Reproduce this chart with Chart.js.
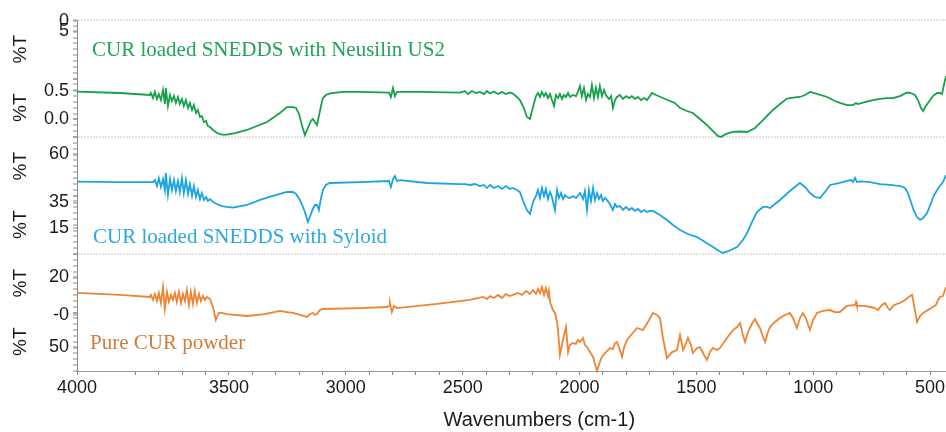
<!DOCTYPE html>
<html>
<head>
<meta charset="utf-8">
<script src="https://cdn.jsdelivr.net/npm/chart.js@4.4.1/dist/chart.umd.min.js"></script>
<style>
html,body{margin:0;padding:0;background:#ffffff;}
canvas{display:block;}
</style>
</head>
<body>
<canvas id="c" width="946" height="432"></canvas>
<script>
// ---------------- DATA ----------------
const sampleNames = ['CUR loaded SNEDDS with Neusilin US2', 'CUR loaded SNEDDS with Syloid', 'Pure CUR powder'];

// x axis (wavenumbers, cm-1)
const xTickValues = [4150, 3500, 3000, 2500, 2000, 1500, 1000, 500];
const xTickLabels = ['4000', '3500', '3000', '2500', '2000', '1500', '1000', '500'];
const xMinorTicks = [3900, 3800, 3700, 3600, 3400, 3300, 3200, 3100, 2900, 2800, 2700, 2600, 2400, 2300, 2200, 2100, 1900, 1800, 1700, 1600, 1400, 1300, 1200, 1100, 900, 800, 700, 600];

// y tick labels of each panel half (panel units 0..100)
const topUpperTickValues = [99.1, 90.2];  const topUpperTickLabels = ['0', '5'];
const topLowerTickValues = [38.9, 15.4];  const topLowerTickLabels = ['0.5', '0.0'];
const midUpperTickValues = [85.5];        const midUpperTickLabels = ['60'];
const midLowerTickValues = [44.0, 22.6];  const midLowerTickLabels = ['35', '15'];
const botUpperTickValues = [79.9];        const botUpperTickLabels = ['20'];
const botLowerTickValues = [47.9, 20.9];  const botLowerTickLabels = ['-0', '50'];

// spectra: [wavenumber, %T (panel units)]
const neusilinSpectrum = [[4150,38.7],[3966,37.6],[3838,35.9],[3834,37.6],[3825,33.3],[3817,38.5],[3808,32.5],[3800,36.7],[3791,31.6],[3782,40.2],[3774,28.2],[3770,41.9],[3761,26.5],[3752,35.9],[3744,30.8],[3735,35.0],[3727,29.1],[3718,34.2],[3710,28.2],[3701,32.5],[3693,26.5],[3684,31.6],[3675,24.8],[3667,29.1],[3658,23.1],[3650,27.3],[3641,20.5],[3633,23.1],[3624,17.1],[3616,17.9],[3607,12.8],[3598,13.7],[3590,9.4],[3581,8.5],[3568,6.0],[3551,3.4],[3530,2.1],[3509,2.1],[3474,3.4],[3423,6.0],[3380,9.4],[3337,12.8],[3282,20.5],[3252,25.6],[3239,25.6],[3226,25.6],[3213,24.8],[3200,19.7],[3188,10.3],[3175,1.7],[3162,7.7],[3149,13.7],[3141,15.4],[3132,12.8],[3123,10.3],[3115,17.9],[3106,26.5],[3098,33.3],[3085,35.9],[3068,37.2],[3012,38.5],[2939,38.5],[2815,38.0],[2807,34.2],[2798,41.9],[2790,35.0],[2781,38.5],[2683,38.5],[2512,38.0],[2490,39.3],[2477,36.7],[2460,39.3],[2443,37.6],[2426,38.5],[2409,36.7],[2396,39.3],[2383,37.2],[2366,38.9],[2349,36.7],[2332,38.5],[2315,36.7],[2298,38.0],[2285,37.2],[2268,34.2],[2255,31.6],[2238,24.8],[2225,17.1],[2212,15.4],[2199,25.6],[2186,35.0],[2178,37.6],[2169,34.2],[2161,38.5],[2152,35.0],[2144,37.6],[2135,33.3],[2126,36.7],[2118,31.6],[2109,26.5],[2101,35.9],[2092,33.3],[2084,36.7],[2075,32.5],[2067,35.9],[2058,34.2],[2049,37.6],[2041,34.2],[2028,35.9],[2015,35.0],[2007,38.5],[1998,43.6],[1990,35.0],[1981,41.9],[1972,31.6],[1964,36.7],[1955,34.2],[1947,44.4],[1938,33.3],[1930,41.9],[1921,34.2],[1913,43.6],[1904,35.0],[1895,40.2],[1887,35.9],[1874,32.5],[1865,35.0],[1857,24.8],[1848,31.6],[1840,34.2],[1827,35.9],[1814,32.5],[1801,35.0],[1788,33.3],[1776,35.0],[1763,32.5],[1750,34.2],[1737,31.6],[1724,33.3],[1711,31.6],[1699,35.0],[1690,37.6],[1673,35.9],[1643,33.3],[1613,30.8],[1592,29.1],[1570,24.8],[1540,22.2],[1515,20.5],[1485,15.4],[1455,10.3],[1429,5.1],[1408,0.9],[1395,0.0],[1373,2.6],[1343,4.3],[1313,4.7],[1283,4.3],[1249,7.7],[1215,14.5],[1194,18.8],[1172,23.1],[1142,28.2],[1112,32.9],[1078,33.8],[1057,34.2],[1035,35.9],[1014,38.5],[980,36.7],[941,34.2],[907,30.8],[886,29.1],[856,27.3],[830,27.3],[817,29.1],[809,28.2],[779,29.9],[744,31.6],[714,32.5],[684,33.3],[659,33.3],[629,35.0],[599,38.0],[582,37.6],[565,35.9],[552,31.6],[539,24.8],[530,22.2],[518,26.5],[500,31.6],[488,35.0],[470,37.6],[458,37.6],[449,36.7],[441,44.4],[432,52.1]];

const syloidSpectrum = [[4150,61.8],[3966,61.5],[3825,61.5],[3817,63.2],[3808,58.1],[3800,64.9],[3791,57.3],[3782,64.1],[3774,54.7],[3770,69.2],[3761,50.4],[3752,64.1],[3744,54.7],[3735,63.2],[3727,53.8],[3718,62.4],[3710,53.0],[3701,64.9],[3693,52.1],[3684,63.2],[3675,51.3],[3667,59.8],[3658,49.6],[3650,58.1],[3641,48.7],[3633,54.7],[3624,47.0],[3616,52.1],[3607,46.2],[3598,48.7],[3590,45.3],[3581,47.0],[3568,44.4],[3551,42.7],[3530,41.0],[3509,40.2],[3483,39.7],[3423,41.9],[3367,46.2],[3312,49.6],[3252,53.0],[3226,53.0],[3213,51.3],[3196,46.2],[3183,40.2],[3175,35.9],[3162,27.4],[3149,34.2],[3141,38.5],[3132,41.9],[3123,41.9],[3115,37.6],[3106,47.9],[3098,54.7],[3085,59.0],[3068,60.7],[2939,61.5],[2815,62.4],[2807,57.3],[2798,64.1],[2790,66.7],[2781,62.4],[2768,63.2],[2653,60.7],[2512,59.8],[2490,59.8],[2469,59.0],[2447,59.8],[2426,58.1],[2409,59.0],[2396,56.4],[2383,59.0],[2366,56.4],[2349,58.1],[2332,55.6],[2315,58.1],[2298,55.6],[2285,56.4],[2268,54.7],[2255,53.0],[2238,43.6],[2225,37.6],[2212,34.2],[2199,44.4],[2186,49.6],[2178,54.7],[2169,47.9],[2161,56.4],[2152,49.6],[2144,55.6],[2135,47.0],[2126,53.0],[2118,48.7],[2105,37.6],[2096,54.7],[2088,47.9],[2079,52.1],[2071,47.0],[2062,50.4],[2054,48.7],[2041,47.9],[2028,49.6],[2015,47.9],[1998,52.1],[1985,47.0],[1977,53.8],[1968,37.6],[1960,54.7],[1951,45.3],[1942,56.4],[1934,46.2],[1925,52.1],[1917,47.0],[1908,50.4],[1900,45.3],[1891,47.9],[1883,46.2],[1870,42.7],[1857,37.6],[1848,42.7],[1840,40.2],[1827,41.0],[1814,37.6],[1801,40.2],[1788,37.6],[1776,39.3],[1763,36.8],[1750,38.5],[1737,35.9],[1724,37.6],[1711,35.9],[1699,36.8],[1686,36.8],[1656,33.3],[1626,29.1],[1600,24.8],[1570,20.5],[1536,17.1],[1497,14.5],[1463,10.3],[1429,6.0],[1403,2.6],[1386,0.9],[1361,2.6],[1326,6.0],[1301,12.0],[1283,17.9],[1262,27.4],[1241,35.9],[1215,40.2],[1198,40.2],[1185,39.3],[1164,42.7],[1142,46.2],[1100,53.8],[1057,60.7],[1035,57.3],[1014,52.1],[993,48.7],[971,47.9],[950,53.0],[928,59.0],[886,60.7],[856,62.4],[838,63.2],[830,61.5],[821,64.9],[813,61.5],[800,62.0],[757,61.5],[714,59.8],[672,59.0],[629,58.1],[607,56.4],[595,52.1],[582,44.4],[569,36.8],[556,31.6],[543,29.1],[530,30.8],[513,35.0],[496,43.6],[483,50.4],[470,54.7],[458,58.1],[445,61.5],[432,67.5]];

const pureCurSpectrum = [[4150,66.7],[3966,65.0],[3838,63.3],[3834,65.0],[3825,60.7],[3817,65.8],[3808,59.8],[3800,66.7],[3791,58.1],[3782,71.8],[3774,53.0],[3765,67.5],[3757,59.0],[3748,65.0],[3740,60.7],[3731,66.7],[3723,59.0],[3714,67.5],[3705,58.1],[3697,65.8],[3688,59.8],[3680,69.2],[3671,56.4],[3663,67.5],[3654,57.3],[3646,68.4],[3637,58.1],[3628,65.8],[3620,59.8],[3611,64.1],[3603,60.7],[3594,63.3],[3581,61.5],[3568,54.7],[3556,43.6],[3543,49.6],[3530,49.6],[3509,48.7],[3423,47.0],[3346,48.7],[3282,51.3],[3252,50.4],[3226,49.6],[3196,47.9],[3166,46.2],[3153,48.7],[3141,49.6],[3132,47.9],[3123,48.7],[3111,52.1],[3098,53.0],[2939,53.8],[2824,54.7],[2815,55.6],[2811,58.1],[2803,50.4],[2794,55.6],[2781,53.8],[2610,57.3],[2512,59.8],[2469,60.7],[2413,63.3],[2396,61.5],[2383,64.1],[2366,62.4],[2349,65.0],[2332,62.4],[2315,65.8],[2298,64.1],[2285,65.0],[2263,66.7],[2246,65.0],[2229,68.4],[2212,65.8],[2199,69.2],[2186,65.8],[2178,70.1],[2169,66.7],[2161,71.8],[2152,65.0],[2144,70.9],[2135,64.1],[2131,68.4],[2126,59.0],[2114,52.1],[2105,49.6],[2096,41.9],[2092,35.0],[2084,13.7],[2071,26.5],[2058,37.6],[2049,16.2],[2041,22.2],[2028,23.9],[2015,23.1],[2007,26.5],[1998,24.8],[1985,28.2],[1977,22.2],[1968,20.5],[1955,16.2],[1942,12.0],[1934,6.0],[1925,0.0],[1913,7.7],[1904,12.0],[1891,15.4],[1878,17.9],[1870,19.7],[1857,18.8],[1848,23.9],[1840,24.8],[1827,17.9],[1818,12.0],[1810,19.7],[1797,26.5],[1776,31.6],[1754,36.8],[1729,35.0],[1707,41.9],[1686,49.6],[1669,47.9],[1656,45.3],[1643,28.2],[1626,11.1],[1604,16.2],[1583,17.9],[1570,30.8],[1557,17.9],[1549,21.4],[1536,28.2],[1523,22.2],[1515,15.4],[1497,19.7],[1485,20.5],[1467,13.7],[1455,9.4],[1442,16.2],[1429,19.7],[1412,17.9],[1399,19.7],[1369,28.2],[1343,35.0],[1326,37.6],[1313,41.0],[1301,30.8],[1292,24.8],[1279,33.3],[1271,36.8],[1258,41.9],[1249,44.4],[1241,41.0],[1228,36.8],[1215,29.1],[1206,24.8],[1194,33.3],[1185,37.6],[1164,41.9],[1142,45.3],[1121,47.9],[1100,49.6],[1087,45.3],[1070,36.8],[1057,45.3],[1044,49.6],[1031,45.3],[1022,39.3],[1014,35.0],[1001,43.6],[984,49.6],[958,51.3],[928,52.1],[907,50.4],[886,50.4],[856,55.6],[821,56.4],[817,59.0],[813,55.6],[779,55.6],[757,54.7],[736,53.8],[723,52.1],[706,56.4],[693,58.1],[680,53.8],[672,52.1],[659,55.6],[642,57.3],[629,58.1],[607,60.7],[586,64.1],[577,65.0],[569,56.4],[556,41.9],[543,47.0],[530,49.6],[509,52.1],[488,54.7],[475,56.4],[466,60.7],[458,63.3],[445,64.1],[432,71.8]];

// ---------------- STYLE / CONFIG ----------------
const lineColors = ['#17a14b', '#1ca4e0', '#ee8535'];
const noteColors = ['#22a457', '#2ca8df', '#d27b37'];
const AXIS_FONT = '"Liberation Sans", Arial, Helvetica, sans-serif';
const Y_AXIS_WIDTH = 77;
const X_AXIS_HEIGHT = 61;

function range(a, b, step) { const r = []; for (let v = a; v <= b + 1e-9; v += step) r.push(+v.toFixed(3)); return r; }

function makeYAxis(min, max, labelValues, labelTexts, upper, weight) {
  const minor = range(min, max, 5);
  const labelMap = new Map(labelValues.map((v, i) => [v, labelTexts[i]]));
  return {
    type: 'linear', position: 'left', stack: 'panels', stackWeight: 1, weight: weight,
    min: min, max: max,
    afterBuildTicks: (scale) => {
      const vals = Array.from(new Set(minor.concat(labelValues))).sort((a, b) => a - b);
      scale.ticks = vals.map(v => ({ value: v }));
    },
    afterFit: (scale) => { scale.width = Y_AXIS_WIDTH; scale.paddingTop = 0; scale.paddingBottom = 0; },
    ticks: {
      autoSkip: false, padding: 4, color: '#1a1a1a',
      font: { family: AXIS_FONT, size: 18 },
      callback: (value) => labelMap.has(value) ? labelMap.get(value) : ''
    },
    grid: {
      drawOnChartArea: true,
      color: (ctx) => (upper && ctx.tick && ctx.tick.value === max) ? '#e6e4db' : 'rgba(0,0,0,0)',
      lineWidth: 2,
      tickLength: 4,
      tickColor: '#8a8a8a',
      tickWidth: 1
    },
    border: { display: true, color: '#8a8a8a', width: 1, dash: [2, 1] },
    title: { display: true, text: '%T', color: '#1a1a1a', font: { family: AXIS_FONT, size: 19 }, padding: { top: 9, bottom: 0 } }
  };
}

const xLabelMap = new Map(xTickValues.map((v, i) => [v, xTickLabels[i]]));

const toXY = (arr) => arr.map(p => ({ x: p[0], y: p[1] }));

const notePlugin = {
  id: 'sampleNotes',
  afterDatasetsDraw(chart) {
    const { ctx, chartArea } = chart;
    const pos = [[15, 30], [16, 217], [13, 323]];
    ctx.save();
    ctx.font = '21px "Liberation Serif", "Times New Roman", serif';
    ctx.textBaseline = 'middle';
    ctx.textAlign = 'left';
    chart.data.datasets.forEach((ds, i) => {
      ctx.fillStyle = noteColors[i];
      ctx.fillText(ds.label, chartArea.left + pos[i][0], chartArea.top + pos[i][1]);
    });
    ctx.restore();
  }
};

new Chart(document.getElementById('c'), {
  type: 'line',
  data: {
    datasets: [
      { label: sampleNames[0], data: toXY(neusilinSpectrum), yAxisID: 'yTopLower', borderColor: lineColors[0] },
      { label: sampleNames[1], data: toXY(syloidSpectrum), yAxisID: 'yMidLower', borderColor: lineColors[1] },
      { label: sampleNames[2], data: toXY(pureCurSpectrum), yAxisID: 'yBotLower', borderColor: lineColors[2] }
    ].map(d => Object.assign(d, { xAxisID: 'x', borderWidth: 1.8, pointRadius: 0, tension: 0, fill: false, clip: false }))
  },
  options: {
    responsive: false,
    animation: false,
    devicePixelRatio: 1,
    layout: { padding: { top: 20, left: 0, right: 0, bottom: 0 } },
    plugins: { legend: { display: false }, tooltip: { enabled: false } },
    scales: {
      x: {
        type: 'linear', position: 'bottom', reverse: true, min: 432, max: 4150,
        afterBuildTicks: (scale) => {
          const vals = xTickValues.concat(xMinorTicks).sort((a, b) => b - a);
          scale.ticks = vals.map(v => ({ value: v }));
        },
        afterFit: (scale) => { scale.height = X_AXIS_HEIGHT; scale.paddingLeft = 0; scale.paddingRight = 0; },
        ticks: {
          autoSkip: false, maxRotation: 0, minRotation: 0, padding: 2, color: '#1a1a1a',
          font: { family: AXIS_FONT, size: 18 },
          callback: (value) => xLabelMap.has(value) ? xLabelMap.get(value) : ''
        },
        grid: { drawOnChartArea: false, tickLength: 4, tickColor: '#8a8a8a' },
        border: { display: true, color: '#9a9a9a', width: 1 },
        title: { display: true, text: '          Wavenumbers (cm-1)', color: '#1a1a1a', font: { family: AXIS_FONT, size: 20 }, padding: { top: 0, bottom: 0 } }
      },
      // defined bottom-to-top
      yBotLower: makeYAxis(0, 50, botLowerTickValues, botLowerTickLabels, false, 1),
      yBotUpper: makeYAxis(50, 100, botUpperTickValues, botUpperTickLabels, true, 2),
      yMidLower: makeYAxis(0, 50, midLowerTickValues, midLowerTickLabels, false, 3),
      yMidUpper: makeYAxis(50, 100, midUpperTickValues, midUpperTickLabels, true, 4),
      yTopLower: makeYAxis(0, 50, topLowerTickValues, topLowerTickLabels, false, 5),
      yTopUpper: makeYAxis(50, 100, topUpperTickValues, topUpperTickLabels, true, 6)
    }
  },
  plugins: [notePlugin]
});
</script>
</body>
</html>
